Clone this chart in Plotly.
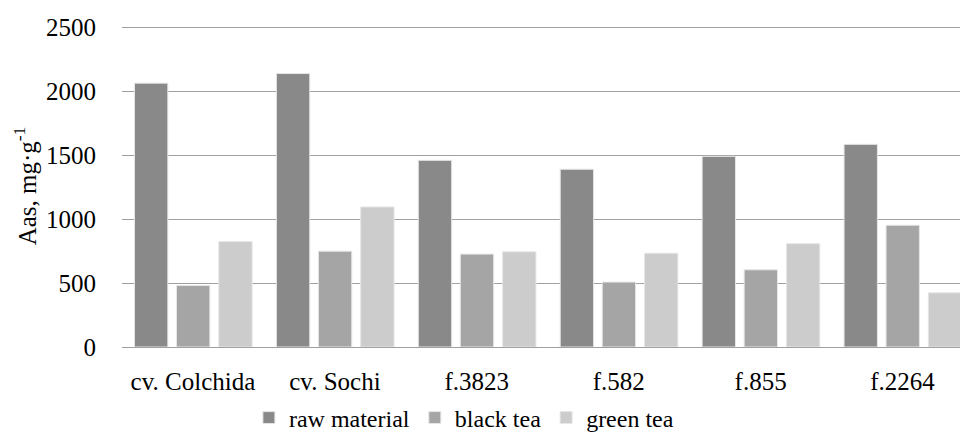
import plotly.graph_objects as go

categories = ["cv. Colchida", "cv. Sochi", "f.3823", "f.582", "f.855", "f.2264"]
raw_material = [2065, 2140, 1461, 1391, 1492, 1586]
black_tea = [481, 750, 727, 508, 604, 953]
green_tea = [825, 1096, 745, 734, 809, 424]
y_ticks = [0, 500, 1000, 1500, 2000, 2500]

series = [
    ("raw material", raw_material, "#898989", -0.412),
    ("black tea", black_tea, "#a5a5a5", -0.116),
    ("green tea", green_tea, "#cccccc", 0.182),
]

fig = go.Figure()
for name, vals, color, off in series:
    fig.add_trace(go.Bar(
        x=categories, y=vals, name=name,
        marker=dict(color=color, line=dict(color="#e6e6e6", width=1)),
        width=0.235, offset=off,
    ))

serif = "Liberation Serif"
fig.update_layout(
    template="none",
    width=960, height=434,
    margin=dict(l=122, r=0, t=25, b=87, pad=0, autoexpand=False),
    paper_bgcolor="white", plot_bgcolor="white",
    barmode="overlay",
    font=dict(family=serif, size=25, color="#000000"),
    showlegend=True,
    legend=dict(orientation="h", x=0.408, xanchor="center", y=-0.2205, yanchor="middle",
                bgcolor="rgba(0,0,0,0)", borderwidth=0, tracegroupgap=0,
                itemwidth=30,
                font=dict(family=serif, size=24, color="#000000")),
    xaxis=dict(type="category", range=[-0.5, 5.405], showgrid=False,
               showline=False, zeroline=False, ticks="outside", ticklen=12,
               tickcolor="rgba(0,0,0,0)", tickfont=dict(family=serif, size=25)),
    yaxis=dict(range=[0, 2520], tickvals=y_ticks, showgrid=True,
               gridcolor="#a0a0a0", gridwidth=1, zeroline=True,
               zerolinecolor="#a0a0a0", zerolinewidth=1, showline=False,
               ticks="outside", ticklen=20, tickcolor="rgba(0,0,0,0)",
               tickfont=dict(family=serif, size=25),
               title=dict(text="Aas, mg·g<sup>-1</sup>",
                          font=dict(family=serif, size=25), standoff=2)),
)

fig.write_html("out.html", config={"displayModeBar": False},
               post_script="document.body.style.margin='0';")
